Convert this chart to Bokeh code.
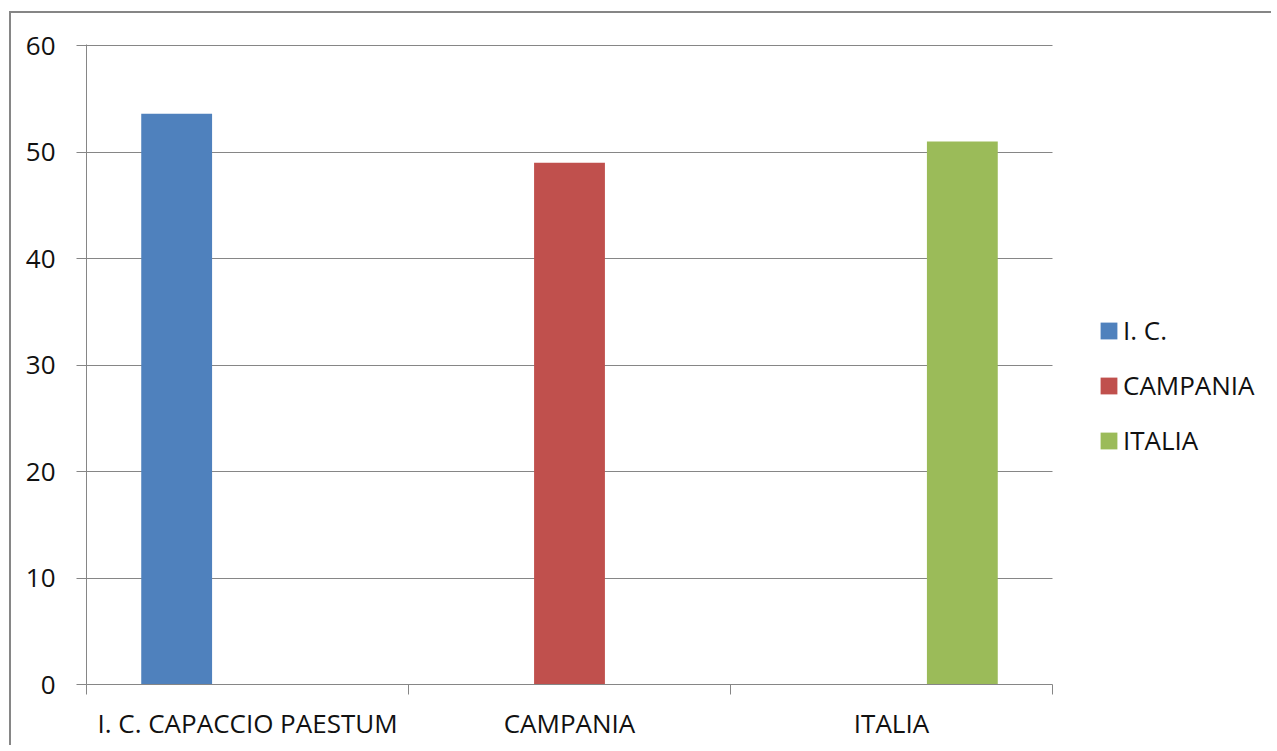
from bokeh.plotting import figure
from bokeh.models import FixedTicker, Legend, LegendItem, Range1d
from bokeh.embed import file_html
from bokeh.resources import INLINE

categories = ["I. C. CAPACCIO PAESTUM", "CAMPANIA", "ITALIA"]
series_names = ["I. C.", "CAMPANIA", "ITALIA"]
series_values = [
    [53.6, 0, 0],
    [0, 49.0, 0],
    [0, 0, 51.0],
]
colors = ["#4F81BD", "#C0504D", "#9BBB59"]
y_ticks = [0, 10, 20, 30, 40, 50, 60]

FONT = "Open Sans"
GRAY = "#868686"
FS = "26px"

W, H = 1262, 734
LEFT, RIGHT, TOP, BOTTOM = 75, 10, 31, 63
frame_w = W - LEFT - RIGHT
n = len(categories)
x_end = n * frame_w / 966.0

p = figure(width=W, height=H, output_backend="svg", toolbar_location=None,
           x_range=Range1d(0, x_end), y_range=Range1d(0, 60.1),
           min_border_left=LEFT, min_border_top=TOP, min_border_right=RIGHT, min_border_bottom=BOTTOM,
           styles={"margin-left": "9px", "margin-top": "11px",
                   "border-left": "2px solid #868686", "border-top": "2px solid #868686"})
p.outline_line_color = None
p.background_fill_color = "white"
p.border_fill_color = "white"

bar_w = 0.22
items = []
for s, (name, vals, col) in enumerate(zip(series_names, series_values, colors)):
    xs = [i + 0.5 + (s - 1) * bar_w for i in range(n)]
    r = p.vbar(x=xs, top=vals, width=bar_w, bottom=0, fill_color=col, line_color=None)
    items.append(LegendItem(label=name, renderers=[r]))

# y axis
p.yaxis.ticker = FixedTicker(ticks=y_ticks)
p.yaxis.axis_line_color = GRAY
p.yaxis.major_tick_line_color = GRAY
p.yaxis.major_tick_in = 0
p.yaxis.major_tick_out = 10
p.yaxis.minor_tick_line_color = None
p.yaxis.major_label_standoff = 21
p.yaxis.major_label_text_font = FONT
p.yaxis.major_label_text_font_size = FS
p.yaxis.major_label_text_color = "#111111"

# x axis: labels at category centres, ticks at boundaries
centers = [i + 0.5 for i in range(n)]
bounds = [i for i in range(n + 1)]
p.xaxis.ticker = FixedTicker(ticks=centers, minor_ticks=bounds)
p.xaxis.major_label_overrides = {c: lab for c, lab in zip(centers, categories)}
p.xaxis.bounds = (0, n)
p.xaxis.axis_line_color = GRAY
p.xaxis.major_tick_line_color = None
p.xaxis.major_tick_in = 0
p.xaxis.major_tick_out = 10
p.xaxis.minor_tick_line_color = GRAY
p.xaxis.minor_tick_in = 0
p.xaxis.minor_tick_out = 10
p.xaxis.major_label_standoff = 10
p.xaxis.major_label_text_font = FONT
p.xaxis.major_label_text_font_size = FS
p.xaxis.major_label_text_color = "#111111"

p.xgrid.grid_line_color = None
p.ygrid.ticker = FixedTicker(ticks=y_ticks[1:])
p.ygrid.cross_bounds = (0, n)
p.ygrid.grid_line_color = GRAY
p.ygrid.grid_line_width = 1

legend = Legend(items=items, location=(1012, 226), orientation="vertical",
                border_line_color=None, background_fill_alpha=0,
                label_text_font=FONT, label_text_font_size=FS,
                label_text_color="#111111",
                glyph_width=21, glyph_height=21, spacing=19, padding=0,
                label_standoff=4, margin=0)
p.add_layout(legend, "center")

open("out.html", "w").write(file_html(p, INLINE))
